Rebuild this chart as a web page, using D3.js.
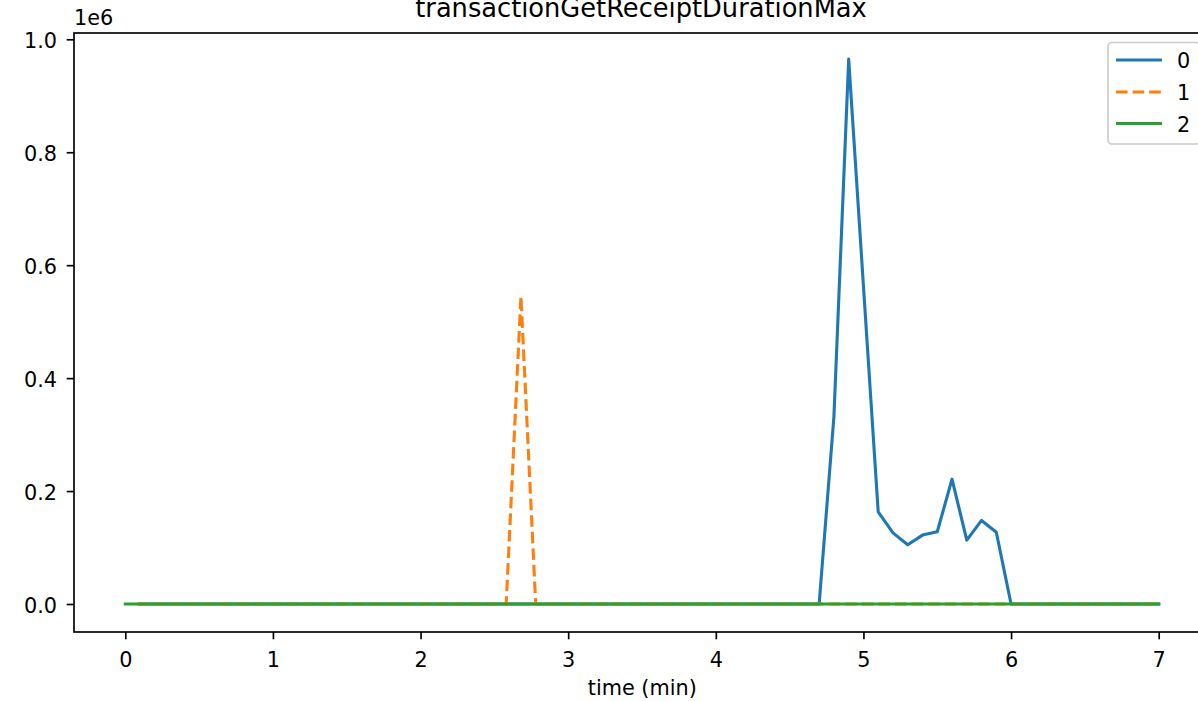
<!DOCTYPE html>
<html>
<head>
<meta charset="utf-8">
<script src="https://cdn.jsdelivr.net/npm/d3@7"></script>
<style>
  html, body { margin: 0; padding: 0; background: #fff; overflow: hidden; }
  svg { display: block; font-family: "DejaVu Sans", sans-serif; }
</style>
</head>
<body>
<svg id="chart" width="1198" height="701"></svg>
<script>
// ---- data ----
const chartTitle = "transactionGetReceiptDurationMax";
const xLabel = "time (min)";
const seriesNames = ["0", "1", "2"];

const timesMin = [
  0.0,0.1,0.2,0.3,0.4,0.5,0.6,0.7,0.8,0.9,
  1.0,1.1,1.2,1.3,1.4,1.5,1.6,1.7,1.8,1.9,
  2.0,2.1,2.2,2.3,2.4,2.5,2.6,2.7,2.8,2.9,
  3.0,3.1,3.2,3.3,3.4,3.5,3.6,3.7,3.8,3.9,
  4.0,4.1,4.2,4.3,4.4,4.5,4.6,4.7,4.8,4.9,
  5.0,5.1,5.2,5.3,5.4,5.5,5.6,5.7,5.8,5.9,
  6.0,6.1,6.2,6.3,6.4,6.5,6.6,6.7,6.8,6.9,
  7.0
];
const series0 = [
  null,0,0,0,0,0,0,0,0,0,
  0,0,0,0,0,0,0,0,0,0,
  0,0,0,0,0,0,0,0,0,0,
  0,0,0,0,0,0,0,0,0,0,
  0,0,0,0,0,0,0,0,332000,965000,
  563000,163000,126000,105000,122000,128000,221000,113000,148000,127000,
  0,0,0,0,0,0,0,0,0,0,
  0
];
const timesMin1 = [
  0.08,0.18,0.28,0.38,0.48,0.58,0.68,0.78,0.88,0.98,
  1.08,1.18,1.28,1.38,1.48,1.58,1.68,1.78,1.88,1.98,
  2.08,2.18,2.28,2.38,2.48,2.58,2.68,2.78,2.88,2.98,
  3.08,3.18,3.28,3.38,3.48,3.58,3.68,3.78,3.88,3.98,
  4.08,4.18,4.28,4.38,4.48,4.58,4.68,4.78,4.88,4.98,
  5.08,5.18,5.28,5.38,5.48,5.58,5.68,5.78,5.88,5.98,
  6.08,6.18,6.28,6.38,6.48,6.58,6.68,6.78,6.88,6.98
];
const series1 = [
  0,0,0,0,0,0,0,0,0,0,
  0,0,0,0,0,0,0,0,0,0,
  0,0,0,0,0,0,545000,0,0,0,
  0,0,0,0,0,0,0,0,0,0,
  0,0,0,0,0,0,0,0,0,0,
  0,0,0,0,0,0,0,0,0,0,
  0,0,0,0,0,0,0,0,0,0
];
const series2 = [
  0,0,0,0,0,0,0,0,0,0,
  0,0,0,0,0,0,0,0,0,0,
  0,0,0,0,0,0,0,0,0,0,
  0,0,0,0,0,0,0,0,0,0,
  0,0,0,0,0,0,0,0,0,0,
  0,0,0,0,0,0,0,0,0,0,
  0,0,0,0,0,0,0,0,0,0,
  0
];
const xTicks = [0,1,2,3,4,5,6,7];
const yTicks = [0, 200000, 400000, 600000, 800000, 1000000];
const yTickLabels = ["0.0","0.2","0.4","0.6","0.8","1.0"];

// ---- layout ----
const svg = d3.select("#chart");
const frame = { left: 74, right: 1210.6, top: 33, bottom: 632 };
const x = d3.scaleLinear().domain([0, 7]).range([125.3, 1158.7]);
const y = d3.scaleLinear().domain([0, 1000000]).range([604, 39.3]);
const fs = 20.8;
const colors = ["#1f77b4", "#ff7f0e", "#2ca02c"];
const dashes = [null, "11.6,5", null];

const data = [
  timesMin.map((t, i) => ({ t, v: series0[i] })),
  timesMin1.map((t, i) => ({ t, v: series1[i] })),
  timesMin.map((t, i) => ({ t, v: series2[i] }))
];

// lines
const line = d3.line().defined(d => d.v !== null).x(d => x(d.t)).y(d => y(d.v));
data.forEach((d, i) => {
  svg.append("path")
    .datum(d)
    .attr("d", line)
    .attr("fill", "none")
    .attr("stroke", colors[i])
    .attr("stroke-width", 3.1)
    .attr("stroke-linejoin", "round")
    .attr("stroke-linecap", i === 1 ? "butt" : "square")
    .attr("stroke-dasharray", dashes[i]);
});

// axes
const xAxis = d3.axisBottom(x).tickValues(xTicks).tickFormat(d3.format("d")).tickSizeInner(7.3).tickSizeOuter(0).tickPadding(6);
const gx = svg.append("g").attr("transform", `translate(0,${frame.bottom})`).call(xAxis);
gx.select(".domain").remove();
gx.selectAll(".tick line").attr("stroke", "#000").attr("stroke-width", 1.67);
gx.selectAll(".tick text").attr("font-size", fs).attr("font-family", "DejaVu Sans").attr("fill", "#000").attr("dy", null).attr("y", 35);

const yAxis = d3.axisLeft(y).tickValues(yTicks).tickFormat((d, i) => yTickLabels[i]).tickSizeInner(7.3).tickSizeOuter(0).tickPadding(10);
const gy = svg.append("g").attr("transform", `translate(${frame.left},0)`).call(yAxis);
gy.select(".domain").remove();
gy.selectAll(".tick line").attr("stroke", "#000").attr("stroke-width", 1.67);
gy.selectAll(".tick text").attr("font-size", fs).attr("font-family", "DejaVu Sans").attr("fill", "#000").attr("dy", "8.3").attr("x", -17);

// spines
svg.append("rect")
  .attr("x", frame.left).attr("y", frame.top)
  .attr("width", frame.right - frame.left).attr("height", frame.bottom - frame.top)
  .attr("fill", "none").attr("stroke", "#000").attr("stroke-width", 1.67);

// texts
svg.append("text").attr("x", 641).attr("y", 17)
  .attr("text-anchor", "middle").attr("font-size", 25.7).text(chartTitle);
svg.append("text").attr("x", (frame.left + frame.right) / 2).attr("y", 695)
  .attr("text-anchor", "middle").attr("font-size", fs).text(xLabel);
svg.append("text").attr("x", 74).attr("y", 25)
  .attr("font-size", fs).text("1e6");

// legend
const lg = svg.append("g");
lg.append("rect").attr("x", 1108).attr("y", 42.5).attr("width", 92).attr("height", 101.5)
  .attr("rx", 4).attr("ry", 4)
  .attr("fill", "#fff").attr("fill-opacity", 0.8)
  .attr("stroke", "#cccccc").attr("stroke-width", 1.67);
const rowY = [60, 92, 123.5];
seriesNames.forEach((name, i) => {
  lg.append("line").attr("x1", 1116).attr("x2", 1162).attr("y1", rowY[i]).attr("y2", rowY[i])
    .attr("stroke", colors[i]).attr("stroke-width", 3.1)
    .attr("stroke-dasharray", dashes[i]);
  lg.append("text").attr("x", 1177).attr("y", rowY[i] + 8).attr("font-size", fs).text(name);
});
</script>
</body>
</html>
